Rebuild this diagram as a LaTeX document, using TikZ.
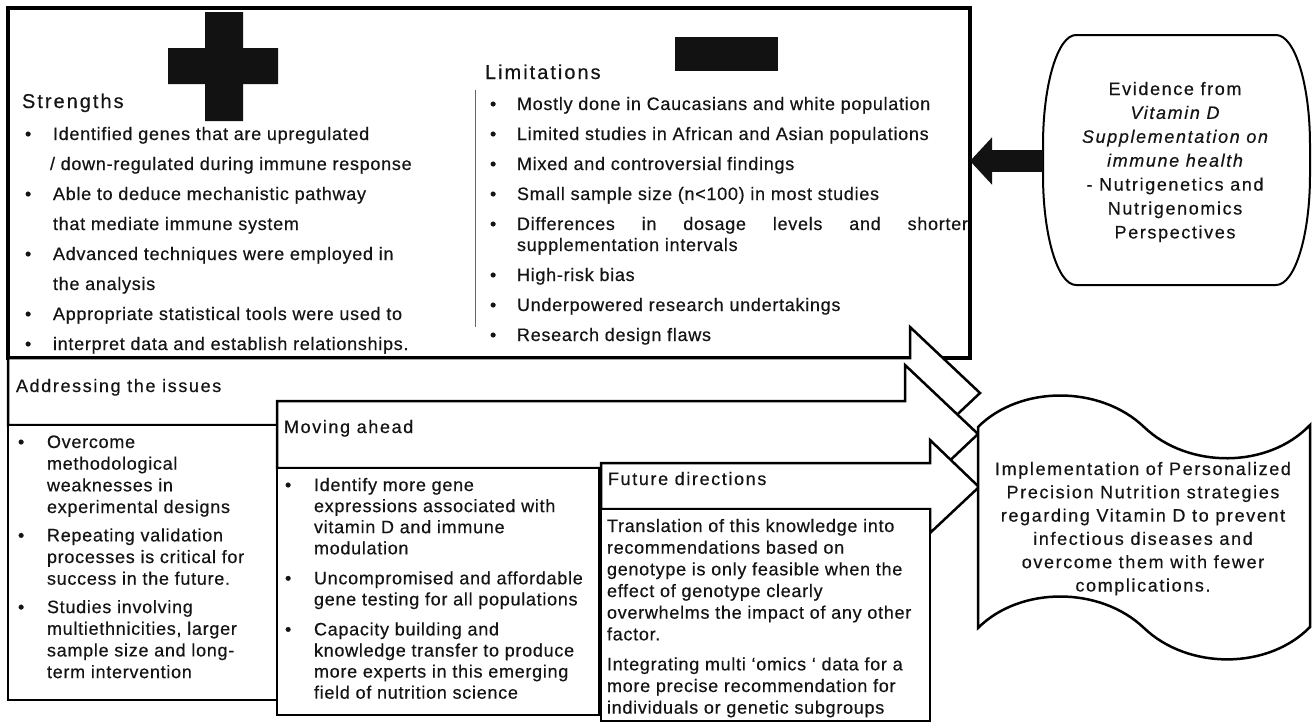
\documentclass[tikz,border=0pt]{standalone}
\usepackage{fontspec}
\setmainfont{Liberation Sans}[LetterSpace=4,FakeBold=0.4]
\newfontfamily\hfont{Liberation Sans}[LetterSpace=9,FakeBold=0.4]
\newfontfamily\tfont{Liberation Sans}[LetterSpace=10,FakeBold=0.4]
\usetikzlibrary{arrows.meta}
\newcommand\bulcell[1]{\makebox[#1pt][l]{\textbullet}}
\begin{document}
\begin{tikzpicture}[x=1pt,y=-1pt,
  txt/.style={inner sep=0pt,outer sep=0pt,text=black!92,anchor=base west},
  ctr/.style={inner sep=0pt,outer sep=0pt,text=black!92,anchor=base},
  blk/.style={draw=black,line width=2.5pt,fill=white,line join=miter},
  bodyA/.style={font=\fontsize{18}{30}\selectfont},
  head/.style={font=\hfont\fontsize{18}{20}\selectfont},
  thead/.style={font=\tfont\fontsize{20}{22}\selectfont}]
\useasboundingbox (0,0) rectangle (1312,724);
\fill[white] (0,0) rectangle (1312,724);

% ---------- top box ----------
\node[draw,line width=3.5pt,fill=white,inner sep=0pt,outer sep=0pt,
      minimum width=962pt,minimum height=350pt,anchor=north west] (topbox) at (8,8) {};
\fill[black!93] (205,12) rectangle (243,121) (168,48) rectangle (278,84);
\fill[black!93] (675,37) rectangle (778,71);
\draw[black!60,line width=1pt] (475,90) -- (475,327);

\node[txt,thead] (strengths) at (22,108) {Strengths};
\node[txt,bodyA] (slist) at (25,140) {\begin{tabular}[t]{@{}l@{}l@{}}
\bulcell{28} & Identified genes that are upregulated\\
 & \hspace{-3pt}/ down-regulated during immune response\\
\bulcell{28} & Able to deduce mechanistic pathway\\
 & that mediate immune system\\
\bulcell{28} & Advanced techniques were employed in\\
 & the analysis\\
\bulcell{28} & Appropriate statistical tools were used to\\
\bulcell{28} & interpret data and establish relationships.
\end{tabular}};

\node[txt,thead] (limits) at (485,79) {Limitations};
\node[txt,bodyA] (llist) at (490,110) {\begin{tabular}[t]{@{}l@{}l@{}}
\bulcell{27} & Mostly done in Caucasians and white population\\
\bulcell{27} & Limited studies in African and Asian populations\\
\bulcell{27} & Mixed and controversial findings\\
\bulcell{27} & Small sample size (n<100) in most studies\\
\bulcell{27} & \makebox[451pt][s]{Differences in dosage levels and shorter}\\[-9pt]
 & supplementation intervals\\
\bulcell{27} & High-risk bias\\
\bulcell{27} & Underpowered research undertakings\\
\bulcell{27} & Research design flaws
\end{tabular}};

% ---------- block arrows and boxes ----------
\draw[blk] (8,358) -- (910,358) -- (910,327) -- (980,393) -- (910,459) -- (910,425) -- (8,425) -- cycle;
\node[txt,head] (addr) at (16,392) {Addressing the issues};
\draw[blk] (8,425) rectangle (277,700);
\node[txt,font=\fontsize{18}{21.67}\selectfont] (alist) at (18,448) {\begin{tabular}[t]{@{}l@{}l@{}}
\bulcell{29} & Overcome\\
 & methodological\\
 & weaknesses in\\
 & experimental designs\\[6.7pt]
\bulcell{29} & Repeating validation\\
 & processes is critical for\\
 & success in the future.\\[6.7pt]
\bulcell{29} & Studies involving\\
 & multiethnicities, larger\\
 & sample size and long-\\
 & term intervention
\end{tabular}};

\draw[blk] (277,401) -- (905,401) -- (905,365) -- (978,434) -- (905,503) -- (905,468) -- (277,468) -- cycle;
\node[txt,head] (move) at (284,433) {Moving ahead};
\draw[blk] (277,468) rectangle (599,715);
\node[txt,font=\fontsize{18}{21.1}\selectfont] (mlist) at (285,491) {\begin{tabular}[t]{@{}l@{}l@{}}
\bulcell{29} & Identify more gene\\
 & expressions associated with\\
 & vitamin D and immune\\
 & modulation\\[8.9pt]
\bulcell{29} & Uncompromised and affordable\\
 & gene testing for all populations\\[8.9pt]
\bulcell{29} & Capacity building and\\
 & knowledge transfer to produce\\
 & more experts in this emerging\\
 & field of nutrition science
\end{tabular}};

\draw[blk] (601,463) -- (930,463) -- (930,440) -- (979,487) -- (930,533) -- (930,509) -- (601,509) -- cycle;
\node[txt,head] (fut) at (608,485) {Future directions};
\draw[blk] (601,509) rectangle (930,721);
\node[txt,font=\fontsize{18}{21.67}\selectfont] (flist) at (607,532) {\begin{tabular}[t]{@{}l@{}}
Translation of this knowledge into\\
recommendations based on\\
genotype is only feasible when the\\
effect of genotype clearly\\
overwhelms the impact of any other\\
factor.\\[8.3pt]
Integrating multi ‘omics ‘ data for a\\
more precise recommendation for\\
individuals or genetic subgroups
\end{tabular}};

% ---------- wave (tape) shape ----------
\draw[line width=2.5pt,fill=white,line join=miter]
  (978,427) .. controls (1020,385) and (1100,385) .. (1144,427)
  .. controls (1188,469) and (1268,469) .. (1310,425)
  -- (1310,627)
  .. controls (1268,670) and (1188,670) .. (1144,628)
  .. controls (1100,586) and (1020,586) .. (978,628) -- cycle;
\node[ctr,font=\hfont\fontsize{18}{23.3}\selectfont] (impl) at (1143,475) {\begin{tabular}[t]{@{}c@{}}
Implementation of Personalized\\
Precision Nutrition strategies\\
regarding Vitamin D to prevent\\
infectious diseases and\\
overcome them with fewer\\
complications.
\end{tabular}};

% ---------- evidence shape ----------
\draw[line width=2pt,fill=white]
  (1076,35) -- (1276,35) .. controls (1294.8,35) and (1310,84.2) .. (1310,145)
  -- (1310,175) .. controls (1310,235.8) and (1294.8,285) .. (1276,285)
  -- (1076,285) .. controls (1057.8,285) and (1043,235.8) .. (1043,175)
  -- (1043,145) .. controls (1043,84.2) and (1057.8,35) .. (1076,35) -- cycle;
\node[ctr,font=\hfont\fontsize{18}{23.9}\selectfont] (evid) at (1175,95) {\begin{tabular}[t]{@{}c@{}}
Evidence from\\
\itshape Vitamin D\\
\itshape Supplementation on\\
\itshape immune health\\
- Nutrigenetics and\\
Nutrigenomics\\
Perspectives
\end{tabular}};
\coordinate (evidL) at (1043,161);
\draw[black!93,line width=22pt,-{Triangle[length=22pt,width=46pt]}] (evidL) -- (evidL -| topbox.east);
\end{tikzpicture}
\end{document}
